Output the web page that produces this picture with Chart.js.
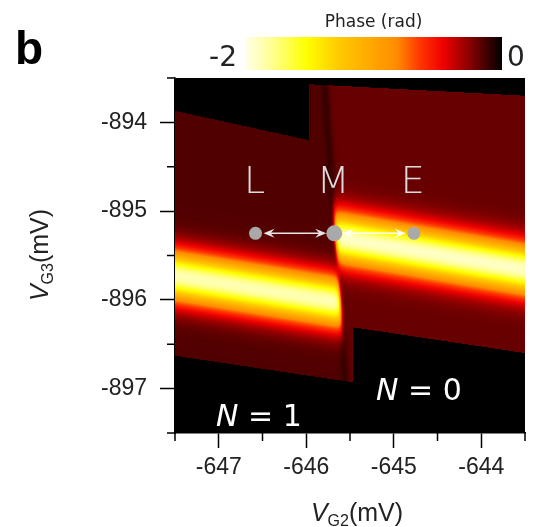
<!DOCTYPE html>
<html>
<head>
<meta charset="utf-8">
<script src="https://cdn.jsdelivr.net/npm/chart.js@4"></script>
<style>
  html, body { margin: 0; padding: 0; background: #fff; }
  #wrap { width: 533px; height: 527px; position: relative; }
</style>
</head>
<body>
<div id="wrap"><canvas id="chart" width="533" height="527"></canvas></div>
<script>
// axis ranges and tick labels (mV)
const xRange = [-647.5, -643.5];
const yRange = [-897.5, -893.5];
const xTicks = [-647, -646, -645, -644];
const yTicks = [-894, -895, -896, -897];
const phaseRange = [-2, 0];

// centre line of the bright band on each side of the transition
const leftBandX = [-647.5, -645.55];
const leftBandY = [-895.73, -896.04];
const rightBandX = [-645.7, -643.5];
const rightBandY = [-895.29, -895.66];
const bandPeak = [-1.72, -1.72];   // left, right
const bandSigma = [0.2, 0.2];      // mV
const bgPhase = [-0.15, -0.19];    // inside the scanned area, left / right of the transition

// charge transition line N=1 | N=0
const transitionX = [-645.74, -645.55];
const transitionY = [-894.2, -896.9];

// outline of scanned area
const scanX = [-647.5, -645.97, -645.97, -643.5, -643.5, -645.46, -645.46, -647.5];
const scanY = [-893.87, -894.2, -893.57, -893.7, -896.6, -896.31, -896.93, -896.63];

// marked points
const markerNames = ["L", "M", "E"];
const markerX = [-646.58, -645.68, -644.77];
const markerY = [-895.25, -895.25, -895.25];

// colour map, position 0 = -2 rad, 1 = 0 rad
const cmapPos = [0, 0.1, 0.24, 0.37, 0.59, 0.68, 0.77, 0.88, 1];
const cmapRGB = [[255,255,235],[255,255,150],[255,255,0],[255,200,0],[255,140,0],[255,55,0],[240,0,0],[130,0,0],[0,0,0]];

function lineAt(xs, ys, x) {
  return ys[0] + (ys[1] - ys[0]) * (x - xs[0]) / (xs[1] - xs[0]);
}

function insideScan(x, y) {
  let inside = false;
  for (let i = 0, j = scanX.length - 1; i < scanX.length; j = i++) {
    const xi = scanX[i], yi = scanY[i], xj = scanX[j], yj = scanY[j];
    if (((yi > y) !== (yj > y)) && (x < (xj - xi) * (y - yi) / (yj - yi) + xi)) inside = !inside;
  }
  return inside;
}

function phaseAt(x, y) {
  if (!insideScan(x, y)) return 0;
  const xt = lineAt(transitionY, transitionX, y);
  const s = 1 / (1 + Math.exp(-(x - xt) / 0.012));
  let v = (bgPhase[0] * (1 - s) + bgPhase[1] * s) * (1 - 0.4 * Math.exp(-Math.pow((x - xt) / 0.05, 2)));
  const dl = y - lineAt(leftBandX, leftBandY, x);
  const dr = y - lineAt(rightBandX, rightBandY, x);
  v += bandPeak[0] * Math.exp(-dl * dl / (2 * bandSigma[0] * bandSigma[0])) * (1 - s);
  v += bandPeak[1] * Math.exp(-dr * dr / (2 * bandSigma[1] * bandSigma[1])) * s;
  return Math.max(phaseRange[0], Math.min(phaseRange[1], v));
}

function colourFor(f) {
  f = Math.max(0, Math.min(1, f));
  for (let i = 1; i < cmapPos.length; i++) {
    if (f <= cmapPos[i]) {
      const t = (f - cmapPos[i - 1]) / (cmapPos[i] - cmapPos[i - 1]);
      const a = cmapRGB[i - 1], b = cmapRGB[i];
      return [a[0] + (b[0] - a[0]) * t, a[1] + (b[1] - a[1]) * t, a[2] + (b[2] - a[2]) * t];
    }
  }
  return cmapRGB[cmapRGB.length - 1];
}

// draws the phase map under the points
const heatmapPlugin = {
  id: "heatmap",
  beforeDatasetsDraw(chart) {
    const ctx = chart.ctx, area = chart.chartArea;
    const xs = chart.scales.x, ys = chart.scales.y;
    const left = Math.round(area.left), top = Math.round(area.top);
    const w = Math.round(area.right) - left, h = Math.round(area.bottom) - top;
    const img = ctx.createImageData(w, h);
    for (let j = 0; j < h; j++) {
      const yv = ys.getValueForPixel(top + j + 0.5);
      for (let i = 0; i < w; i++) {
        const xv = xs.getValueForPixel(left + i + 0.5);
        const f = (phaseAt(xv, yv) - phaseRange[0]) / (phaseRange[1] - phaseRange[0]);
        const c = colourFor(f);
        const k = (j * w + i) * 4;
        img.data[k] = c[0]; img.data[k + 1] = c[1]; img.data[k + 2] = c[2]; img.data[k + 3] = 255;
      }
    }
    ctx.putImageData(img, left, top);
  }
};

function arrowHead(ctx, x, y, dir) {
  ctx.beginPath();
  ctx.moveTo(x, y);
  ctx.lineTo(x - dir * 11, y - 4.5);
  ctx.lineTo(x - dir * 7, y);
  ctx.lineTo(x - dir * 11, y + 4.5);
  ctx.closePath();
  ctx.fill();
}

// colour bar, labels, minor ticks, axis titles, arrows
const decorPlugin = {
  id: "decor",
  beforeDatasetsDraw(chart) {
    const ctx = chart.ctx, xs = chart.scales.x, ys = chart.scales.y;
    ctx.save();
    for (let i = 0; i < 2; i++) {
      const x1 = xs.getPixelForValue(markerX[i]) + 8, x2 = xs.getPixelForValue(markerX[i + 1]) - 8;
      const y = ys.getPixelForValue(markerY[i]);
      ctx.strokeStyle = i === 0 ? "#e6e6e6" : "#ffffff";
      ctx.fillStyle = ctx.strokeStyle;
      ctx.lineWidth = 1.5;
      ctx.beginPath(); ctx.moveTo(x1 + 6, y); ctx.lineTo(x2 - 6, y); ctx.stroke();
      arrowHead(ctx, x1, y, -1);
      arrowHead(ctx, x2, y, 1);
    }
    ctx.restore();
  },
  afterDraw(chart) {
    const ctx = chart.ctx, area = chart.chartArea, xs = chart.scales.x, ys = chart.scales.y;
    ctx.save();
    // colour bar
    const cbL = 245, cbR = 502, cbT = 37, cbB = 70;
    for (let px = cbL; px < cbR; px++) {
      const c = colourFor((px - cbL + 0.5) / (cbR - cbL));
      ctx.fillStyle = "rgb(" + c.map(Math.round).join(",") + ")";
      ctx.fillRect(px, cbT, 1, cbB - cbT);
    }
    ctx.fillStyle = "#222";
    ctx.textBaseline = "alphabetic";
    ctx.font = "17px 'DejaVu Sans'";
    ctx.textAlign = "center";
    ctx.fillText("Phase (rad)", (cbL + cbR) / 2, 27);
    ctx.font = "28px 'DejaVu Sans'";
    ctx.textAlign = "right";
    ctx.fillText(String(phaseRange[0]), 237, 66);
    ctx.textAlign = "left";
    ctx.fillText(String(phaseRange[1]), 507, 66);
    ctx.font = "bold 46px 'Liberation Sans'";
    ctx.fillStyle = "#000";
    ctx.fillText("b", 15, 64);

    // minor ticks every 0.5 mV
    ctx.strokeStyle = "#000";
    ctx.lineWidth = 1.5;
    ctx.beginPath();
    for (let v = xRange[0]; v <= xRange[1] + 1e-9; v += 0.5) {
      if (Number.isInteger(v)) continue;
      const px = xs.getPixelForValue(v);
      ctx.moveTo(px, area.bottom); ctx.lineTo(px, area.bottom + 8);
    }
    for (let v = yRange[0]; v <= yRange[1] + 1e-9; v += 0.5) {
      if (Number.isInteger(v)) continue;
      const py = ys.getPixelForValue(v);
      ctx.moveTo(area.left, py); ctx.lineTo(area.left - 8, py);
    }
    ctx.stroke();

    // axis titles with subscripts
    function title(sub, cx, cy) {
      ctx.font = "italic 25px 'Liberation Sans'";
      const wV = ctx.measureText("V").width;
      ctx.font = "16px 'Liberation Sans'";
      const wS = ctx.measureText(sub).width;
      ctx.font = "25px 'Liberation Sans'";
      const wU = ctx.measureText("(mV)").width;
      let x = cx - (wV + wS + wU) / 2;
      ctx.textAlign = "left";
      ctx.font = "italic 25px 'Liberation Sans'";
      ctx.fillText("V", x, cy); x += wV;
      ctx.font = "16px 'Liberation Sans'";
      ctx.fillText(sub, x, cy + 5); x += wS;
      ctx.font = "25px 'Liberation Sans'";
      ctx.fillText("(mV)", x, cy);
    }
    ctx.fillStyle = "#222";
    title("G2", 357, 521);
    ctx.save();
    ctx.translate(48, 255);
    ctx.rotate(-Math.PI / 2);
    title("G3", 0, 0);
    ctx.restore();

    // L M E letters and N labels
    ctx.fillStyle = "#dcdcdc";
    ctx.textAlign = "center";
    ctx.font = "200 38px 'DejaVu Sans'";
    for (let i = 0; i < markerNames.length; i++) {
      ctx.fillText(markerNames[i], xs.getPixelForValue(markerX[i]) - 1, 193);
    }
    ctx.fillStyle = "#ffffff";
    ctx.textAlign = "left";
    function nLabel(n, x, y) {
      ctx.font = "italic 30px 'DejaVu Sans'";
      ctx.fillText("N", x, y);
      const w = ctx.measureText("N").width;
      ctx.font = "30px 'DejaVu Sans'";
      ctx.fillText(" = " + n, x + w, y);
    }
    nLabel(0, 376, 400);
    nLabel(1, 216, 426);
    ctx.restore();
  }
};

new Chart(document.getElementById("chart"), {
  type: "scatter",
  data: {
    datasets: [{
      data: markerX.map((x, i) => ({ x: x, y: markerY[i] })),
      backgroundColor: "#a9a9a9",
      borderWidth: 0,
      pointRadius: [6.5, 8, 6.5],
      pointHoverRadius: [6.5, 8, 6.5]
    }]
  },
  options: {
    responsive: false,
    animation: false,
    events: [],
    layout: { padding: { top: 78, right: 2, left: 0, bottom: 0 } },
    plugins: { legend: { display: false }, tooltip: { enabled: false } },
    scales: {
      x: {
        type: "linear",
        min: xRange[0], max: xRange[1],
        afterFit: s => { s.height = 94; },
        afterBuildTicks: s => { s.ticks = xTicks.map(v => ({ value: v })); },
        ticks: { color: "#222", font: { family: "'Liberation Sans'", size: 23 }, padding: 6, callback: v => String(v), maxRotation: 0 },
        grid: { drawOnChartArea: false, tickLength: 15, tickWidth: 1.5, tickColor: "#000" },
        border: { color: "#000", width: 1.5 }
      },
      y: {
        type: "linear",
        min: yRange[0], max: yRange[1],
        afterFit: s => { s.width = 175; },
        afterBuildTicks: s => { s.ticks = yTicks.map(v => ({ value: v })); },
        ticks: { color: "#222", font: { family: "'Liberation Sans'", size: 23 }, padding: 13, callback: v => String(v) },
        grid: { drawOnChartArea: false, tickLength: 15, tickWidth: 1.5, tickColor: "#000" },
        border: { color: "#000", width: 1.5 }
      }
    }
  },
  plugins: [heatmapPlugin, decorPlugin]
});
</script>
</body>
</html>
